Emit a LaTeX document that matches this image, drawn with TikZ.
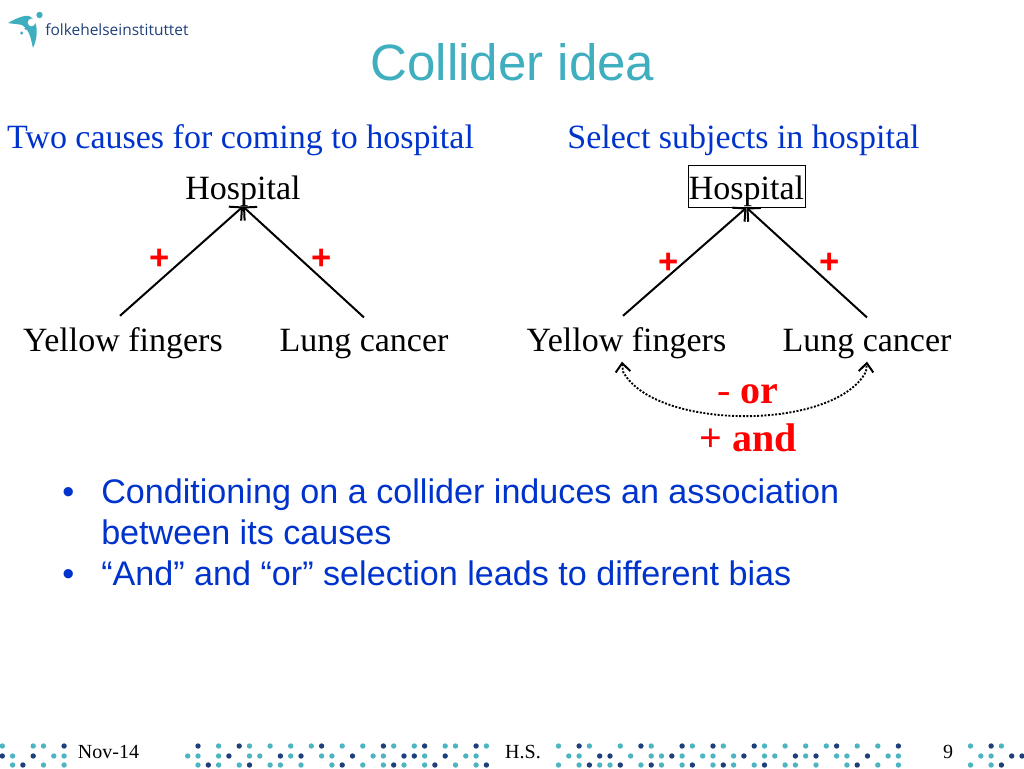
\documentclass[tikz,border=0pt]{standalone}
\usepackage{fontspec}
\setmainfont{Liberation Serif}
\setsansfont{Liberation Sans}
\newfontfamily\logofont{Open Sans}
\usetikzlibrary{arrows.meta}
\definecolor{fhiteal}{HTML}{3FAFC0}
\definecolor{fhilight}{HTML}{4DB5C2}
\definecolor{fhidark}{HTML}{1F3F7A}
\definecolor{fhiblue}{HTML}{0033CC}
\begin{document}
\begin{tikzpicture}[x=0.75pt, y=-0.75pt,
      every node/.style={inner sep=0pt, anchor=base},
      var/.style={font=\fontsize{25.5}{30}\selectfont},
      heading/.style={font=\fontsize{25.5}{30}\selectfont, text=fhiblue},
      sign/.style={font=\fontsize{30}{34}\selectfont\bfseries, text=red},
      plus/.style={font=\sffamily\fontsize{26}{30}\selectfont\bfseries, text=red},
      bullet/.style={font=\sffamily\fontsize{25.6}{30}\selectfont, text=fhiblue, anchor=base west},
      foot/.style={font=\fontsize{15}{18}\selectfont},
      edge/.style={line width=1.5pt, -{Straight Barb[length=7pt,width=14pt]}},
      assoc/.style={line width=1.4pt, dash pattern=on 1.5pt off 1.2pt, {Straight Barb[length=6.5pt,width=11pt,line width=1.5pt]}-{Straight Barb[length=6.5pt,width=11pt,line width=1.5pt]}},
      lightdot/.style={fill=fhilight},
      darkdot/.style={fill=fhidark}]

      \useasboundingbox (0,0) rectangle (1024,768);

      \fill[fhiteal] (8,23) .. controls (18,17) and (26,15) .. (29,16) .. controls (38,20) and (39,35) .. (33,48) .. controls (31,40) and (30,30) .. (22,25) .. controls (18,24) and (13,24) .. (8,23) -- cycle;
      \fill[white] (31.5,22.5) circle (3.8);
      \fill[fhiteal] (39.5,15) circle (3.2);
      \fill[fhiteal] (26,28.5) circle (1.7);
      \fill[fhiteal] (21.7,33) circle (1.7);
      \node[font=\logofont\fontsize{11.6}{14}\selectfont, text=fhidark, anchor=base west] (logo) at (45,35) {folkehelseinstituttet};

      \node[font=\sffamily\fontsize{38.3}{44}\selectfont, text=fhiteal] (title) at (512.5,80) {Collider idea};

      \node[heading] (headA) at (240.5,148) {Two causes for coming to hospital};
      \node[heading] (headB) at (743.5,148) {Select subjects in hospital};

      \node[var] (hospA) at (243,199) {Hospital};
      \node[var] (yfA) at (123,351) {Yellow fingers};
      \node[var] (lcA) at (364,351) {Lung cancer};
      \draw[edge] ([shift={(-3,-11)}]yfA.north) -- (hospA.south);
      \draw[edge] ([yshift=8.25pt]lcA.north) -- (hospA.south);
      \node[plus] (plusA) at (160,269.5) {+};
      \node[plus] (plusB) at (322,269.5) {+};

      \node[var, draw, inner xsep=0.5pt, inner ysep=0.75pt, text height=24.75pt, text depth=5.5pt] (hospB) at (746.5,199) {Hospital};
      \node[var] (yfB) at (626.5,351) {Yellow fingers};
      \node[var] (lcB) at (867,351) {Lung cancer};
      \draw[edge] ([shift={(-3.5,-11)}]yfB.north) -- (hospB.south);
      \draw[edge] ([yshift=8.25pt]lcB.north) -- (hospB.south);
      \node[plus] (plusC) at (669,273) {+};
      \node[plus] (plusD) at (830,273) {+};

      \coordinate (assocA) at ([shift={(-4.5,3)}]yfB.south);
      \coordinate (assocB) at ([shift={(0,3)}]lcB.south);
      \draw[assoc] (assocA) -- ([shift={(1,10)}]assocA) .. controls (655,431) and (835,431) .. ([shift={(-1,10)}]assocB) -- (assocB);
      \node[sign] (orsel) at (748,403) {{\mdseries -} or};
      \node[sign] (andsel) at (748,451) {+ and};

      \node[bullet] (dotA) at (62,503.5) {•};
      \node[bullet] (lineA) at (101,503.5) {Conditioning on a collider induces an association};
      \node[bullet] (lineB) at (101,544.5) {between its causes};
      \node[bullet] (dotB) at (62,585.5) {•};
      \node[bullet] (lineC) at (101,585.5) {“And” and “or” selection leads to different bias};

      \foreach \i in {0,3,4,21,24,26,28,30,33,35,38,40,43,44,47,54,57,60,63,67,70,74,76,78,80,83,85,94,97}
        \fill[lightdot] (2.3+10.3*\i,746) circle (2.7);
      \foreach \i in {6,19,23,31,37,41,46,56,62,66,69,73,81,87,96}
        \fill[darkdot] (2.3+10.3*\i,746) circle (2.7);
      \foreach \i in {1,5,6,18,19,21,24,25,28,31,32,36,37,41,45,46,55,56,61,63,64,66,68,69,71,74,75,78,81,82,86,87,95,96}
        \fill[lightdot] (2.3+10.3*\i,756) circle (2.7);
      \foreach \i in {0,3,22,27,29,34,39,40,43,58,59,65,72,77,79,84,98,99}
        \fill[darkdot] (2.3+10.3*\i,756) circle (2.7);
      \foreach \i in {1,4,6,19,21,23,26,27,29,32,35,37,39,41,44,46,54,56,58,59,62,64,66,69,71,73,76,77,79,82,85,87,94,96}
        \fill[lightdot] (2.3+10.3*\i,765) circle (2.7);
      \foreach \i in {2,20,24,33,38,42,47,57,60,63,67,70,74,83,97}
        \fill[darkdot] (2.3+10.3*\i,765) circle (2.7);

      \node[foot] (date) at (108.5,758) {Nov-14};
      \node[foot] (who) at (523,758) {H.S.};
      \node[foot] (page) at (948,758) {9};
\end{tikzpicture}
\end{document}
